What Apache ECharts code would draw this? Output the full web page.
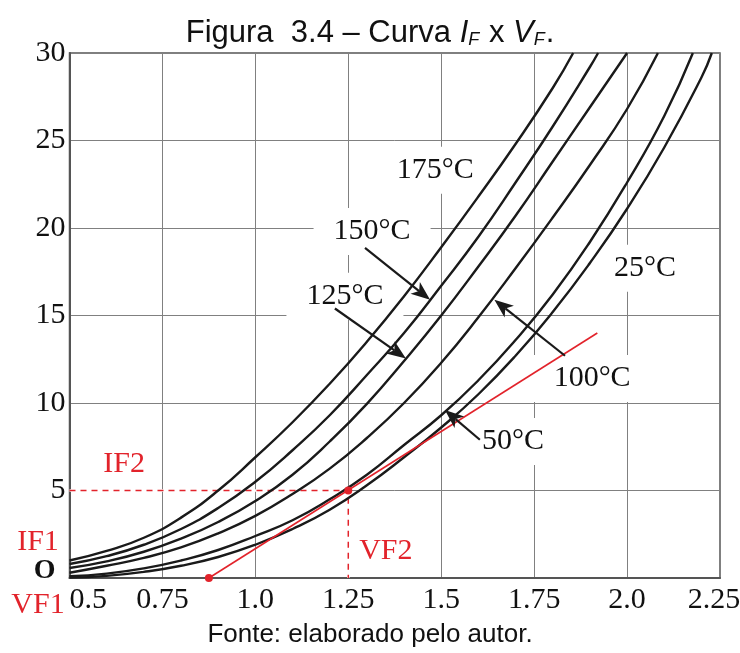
<!DOCTYPE html>
<html><head><meta charset="utf-8">
<script src="https://cdn.jsdelivr.net/npm/echarts@6/dist/echarts.min.js"></script>
<style>html,body{margin:0;padding:0;background:#fff}#c{width:740px;height:653px}</style>
</head><body><div id="c"></div>
<script>
// Tick labels
const xTickLabels = ['0.5', '0.75', '1.0', '1.25', '1.5', '1.75', '2.0', '2.25'];
const yTickLabels = ['O', '5', '10', '15', '20', '25', '30'];

// Curves I_F (A) vs V_F (V), [V, I]
const curve175 = [[0.5,1.0],[0.6,1.55],[0.7,2.3],[0.8,3.45],[0.9,5.0],[1.0,6.9],[1.1,8.9],[1.2,11.1],[1.3,13.5],[1.4,16.1],[1.5,18.9],[1.6,21.8],[1.7,24.8],[1.8,28.0],[1.855,30]];
const curve150 = [[0.5,0.8],[0.6,1.25],[0.7,1.9],[0.8,2.8],[0.9,4.0],[1.0,5.5],[1.1,7.3],[1.2,9.3],[1.3,11.6],[1.4,14.0],[1.5,16.7],[1.6,19.5],[1.7,22.6],[1.8,25.8],[1.9,29.2],[1.922,30]];
const curve125 = [[0.5,0.57],[0.6,0.95],[0.7,1.5],[0.8,2.25],[0.9,3.2],[1.0,4.4],[1.1,5.9],[1.2,7.8],[1.3,9.95],[1.4,12.4],[1.5,15.0],[1.6,17.8],[1.7,20.7],[1.8,23.8],[1.9,26.9],[2.0,30]];
const curve100 = [[0.5,0.3],[0.6,0.7],[0.7,1.15],[0.8,1.75],[0.9,2.55],[1.0,3.55],[1.1,4.8],[1.2,6.25],[1.3,8.0],[1.4,10.0],[1.5,12.3],[1.6,14.9],[1.7,17.7],[1.8,20.6],[1.9,23.6],[2.0,26.8],[2.083,30]];
const curve50 = [[0.5,0.1],[0.6,0.25],[0.7,0.55],[0.8,1.0],[0.9,1.6],[1.0,2.4],[1.1,3.3],[1.2,4.5],[1.3,5.9],[1.4,7.6],[1.5,9.3],[1.6,11.3],[1.7,13.6],[1.8,16.2],[1.9,19.2],[2.0,22.6],[2.1,26.4],[2.177,30]];
const curve25 = [[0.5,0.02],[0.6,0.12],[0.7,0.35],[0.8,0.7],[0.9,1.2],[1.0,1.9],[1.1,2.8],[1.2,3.9],[1.3,5.3],[1.4,6.9],[1.5,8.6],[1.6,10.5],[1.7,12.7],[1.8,15.2],[1.9,18.0],[2.0,21.1],[2.1,24.6],[2.2,28.6],[2.228,30]];

// Tangent line, operating points and dashed guides
const tangentLine = [[0.875,0],[1.92,14.0]];
const operatingPoints = [[0.875,0],[1.25,5]];
const guideLines = [[0.5,5],[1.25,5],[1.25,0]];

// Curve labels [V, I, text]
const curveLabels = [[1.484,23.3,'175°C'],[1.314,19.8,'150°C'],[1.241,16.1,'125°C'],[2.048,17.7,'25°C'],[1.906,11.4,'100°C'],[1.693,7.8,'50°C']];
const redLabels = [[0.647,6.5,'IF2'],[1.351,1.55,'VF2']];
// Arrows [fromV, fromI, toV, toI]
const arrows = [
  [1.295, 18.86, 1.47, 15.9],
  [1.214, 15.4, 1.405, 12.55],
  [1.833, 12.7, 1.643, 15.9],
  [1.604, 7.9, 1.510, 9.6]
];

const RED = '#e2232b';
const SERIF = '"Liberation Serif", "Times New Roman", serif';
const SANS = '"Liberation Sans", Arial, sans-serif';

const chart = echarts.init(document.getElementById('c'), null, {renderer: 'canvas'});

function curveSeries(name, data) {
  return {
    name, type: 'line', data, smooth: 0.5, symbol: 'none', z: 3,
    lineStyle: {color: '#1a1a1a', width: 2.4}, silent: true
  };
}

function renderArrow(params, api) {
  const p0 = api.coord([api.value(0), api.value(1)]);
  const p1 = api.coord([api.value(2), api.value(3)]);
  const dx = p1[0] - p0[0], dy = p1[1] - p0[1];
  const len = Math.sqrt(dx * dx + dy * dy);
  const ux = dx / len, uy = dy / len;
  const nx = -uy, ny = ux;
  const L = 19, W = 7.5, notch = 5;
  const base = [p1[0] - ux * L, p1[1] - uy * L];
  const inner = [p1[0] - ux * (L - notch), p1[1] - uy * (L - notch)];
  return {
    type: 'group',
    children: [
      {type: 'line', shape: {x1: p0[0], y1: p0[1], x2: inner[0], y2: inner[1]},
       style: {stroke: '#1a1a1a', lineWidth: 2.2}},
      {type: 'polygon', shape: {points: [
        p1,
        [base[0] + nx * W, base[1] + ny * W],
        inner,
        [base[0] - nx * W, base[1] - ny * W]
      ]}, style: {fill: '#1a1a1a'}}
    ]
  };
}

const option = {
  animation: false,
  backgroundColor: '#fff',
  title: {
    text: '{n|Figura  3.4 – Curva }{i|I}{s|F}{n| x }{i|V}{s|F}{n|.}',
    left: 'center', top: 8,
    textStyle: {
      fontWeight: 'normal',
      rich: {
        n: {fontFamily: SANS, fontSize: 31, fontWeight: 'normal', color: '#111', lineHeight: 36, verticalAlign: 'bottom'},
        i: {fontFamily: SANS, fontSize: 31, fontWeight: 'normal', fontStyle: 'italic', color: '#111', lineHeight: 36, verticalAlign: 'bottom'},
        s: {fontFamily: SANS, fontSize: 18, fontWeight: 'normal', fontStyle: 'italic', color: '#111', lineHeight: 18, verticalAlign: 'bottom', padding: [0, 1, 0, 0]}
      }
    }
  },
  grid: {left: 69.5, right: 20, top: 53, bottom: 75, show: true, borderColor: '#555', borderWidth: 1.5, backgroundColor: 'transparent', outerBoundsMode: 'none', containLabel: false},
  xAxis: {
    type: 'value', min: 0.5, max: 2.25, interval: 0.25,
    axisLine: {show: true, lineStyle: {color: '#555', width: 2}},
    axisTick: {show: false},
    splitLine: {show: true, lineStyle: {color: '#808080', width: 1}},
    axisLabel: {
      fontFamily: SERIF, fontSize: 30, color: '#111', margin: 7,
      alignMinLabel: 'left',
      formatter: v => {
        const idx = Math.round((v - 0.5) / 0.25);
        const t = xTickLabels[idx];
        return idx === xTickLabels.length - 1 ? '{m|' + t + '}' : t;
      },
      rich: {m: {fontFamily: SERIF, fontSize: 30, color: '#111', padding: [0, 12, 0, 0]}}
    }
  },
  yAxis: {
    type: 'value', min: 0, max: 30, interval: 5,
    axisLine: {show: true, lineStyle: {color: '#555', width: 2}},
    axisTick: {show: false},
    splitLine: {show: true, lineStyle: {color: '#808080', width: 1}},
    axisLabel: {
      fontFamily: SERIF, fontSize: 30, color: '#111', margin: 4,
      formatter: v => {
        const t = yTickLabels[Math.round(v / 5)];
        return v === 0 ? '{o|' + t + '}' : t;
      },
      rich: {o: {fontFamily: SERIF, fontSize: 28, fontWeight: 'bold', color: '#111', padding: [0, 10, 14, 0]}}
    }
  },
  graphic: [
    {type: 'text', left: 'center', top: 622, style: {text: 'Fonte: elaborado pelo autor.', font: '26px ' + SANS, fill: '#111'}},
    {type: 'text', x: 38, y: 542, style: {text: 'IF1', font: '30px ' + SERIF, fill: RED, align: 'center', verticalAlign: 'middle'}},
    {type: 'text', x: 38, y: 605, style: {text: 'VF1', font: '30px ' + SERIF, fill: RED, align: 'center', verticalAlign: 'middle'}}
  ],
  series: [
    {
      name: 'labels', type: 'scatter', z: 1, silent: true,
      symbolSize: 1, itemStyle: {color: 'rgba(0,0,0,0)', opacity: 1},
      data: curveLabels.map(d => ({value: [d[0], d[1]], name: d[2]})),
      label: {show: true, position: 'inside', opacity: 1, formatter: p => p.name, fontFamily: SERIF, fontSize: 30, color: '#111', backgroundColor: '#fff', padding: [14, 20, 3, 20]},
      labelLayout: {hideOverlap: false}
    },
    {
      name: 'guideUnder', type: 'line', data: guideLines, symbol: 'none', z: 2, silent: true,
      lineStyle: {color: '#fff', width: 2.5}
    },
    {
      name: 'guide', type: 'line', data: guideLines, symbol: 'none', z: 2, silent: true,
      lineStyle: {color: RED, width: 1.5, type: [6, 5]}
    },
    {
      name: 'redLabels', type: 'scatter', z: 2, silent: true,
      symbolSize: 1, itemStyle: {color: 'rgba(0,0,0,0)', opacity: 1},
      data: redLabels.map(d => ({value: [d[0], d[1]], name: d[2]})),
      label: {show: true, position: 'inside', opacity: 1, formatter: p => p.name, fontFamily: SERIF, fontSize: 30, color: RED}
    },
    curveSeries('175°C', curve175),
    curveSeries('150°C', curve150),
    curveSeries('125°C', curve125),
    curveSeries('100°C', curve100),
    curveSeries('50°C', curve50),
    curveSeries('25°C', curve25),
    {
      name: 'tangent', type: 'line', data: tangentLine, symbol: 'none', z: 5, silent: true,
      lineStyle: {color: RED, width: 1.6}
    },
    {
      name: 'points', type: 'scatter', data: operatingPoints, z: 6, clip: false, silent: true,
      symbolSize: 8, itemStyle: {color: RED, opacity: 1}
    },
    {
      name: 'arrows', type: 'custom', z: 7, silent: true,
      dimensions: ['x1', 'y1', 'x2', 'y2'],
      encode: {x: [0, 2], y: [1, 3]},
      renderItem: renderArrow,
      data: arrows
    }
  ]
};
chart.setOption(option);
</script>
</body></html>
